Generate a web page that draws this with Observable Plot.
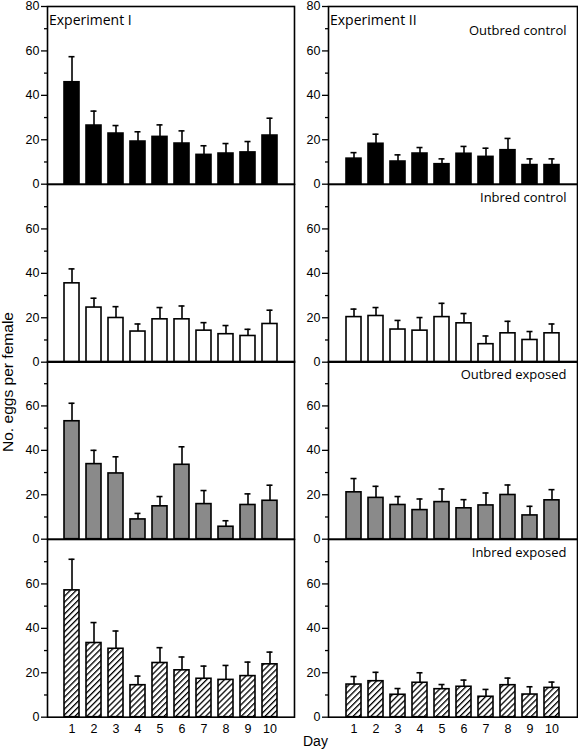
<!DOCTYPE html>
<html><head><meta charset="utf-8">
<script src="https://cdn.jsdelivr.net/npm/d3@7"></script>
<script src="https://cdn.jsdelivr.net/npm/@observablehq/plot@0.6"></script>
<style>
body{margin:0;background:#fff;}
#fig{position:relative;width:578px;height:750px;overflow:hidden;background:#fff;}
#fig svg{position:absolute;}
</style></head><body><div id="fig"></div>
<script>
// ---- data ----
const days = [1,2,3,4,5,6,7,8,9,10];
const yTicksMajor = [0,20,40,60,80];
const yTicksMinor = [10,30,50,70];
const experiments = ["Experiment I","Experiment II"];
const treatments = ["Outbred control","Inbred control","Outbred exposed","Inbred exposed"];
const xTitle = "Day";
const yTitle = "No. eggs per female";

// Experiment I: bar means and error-bar tops
const exp1OutbredControl    = [45.9,26.4,22.8,19.2,21.3,18.3,13.2,13.8,14.3,21.9];
const exp1OutbredControlTop = [57.4,32.9,26.4,23.6,26.7,24.0,17.3,18.3,19.2,29.7];
const exp1InbredControl     = [35.5,24.6,19.9,13.8,19.3,19.3,14.2,12.6,11.8,17.2];
const exp1InbredControlTop  = [42.0,28.8,25.0,17.2,24.6,25.3,17.8,16.5,14.8,23.4];
const exp1OutbredExposed    = [53.1,33.8,29.6,8.9,14.8,33.5,15.8,5.6,15.4,17.3];
const exp1OutbredExposedTop = [61.2,40.0,37.1,11.6,19.2,41.6,21.9,8.3,20.4,24.3];
const exp1InbredExposed     = [57.1,33.4,30.8,14.4,24.4,21.1,17.3,16.8,18.5,23.8];
const exp1InbredExposedTop  = [71.1,42.6,38.8,18.5,31.3,27.1,23.0,23.3,24.8,29.3];

// Experiment II
const exp2OutbredControl    = [11.5,18.2,10.2,13.8,9.0,13.7,12.3,15.3,8.6,8.6];
const exp2OutbredControlTop = [14.2,22.5,13.2,16.5,11.4,17.0,16.2,20.6,11.4,11.4];
const exp2InbredControl     = [20.3,20.8,14.7,14.2,20.3,17.5,8.1,13.0,10.0,13.0];
const exp2InbredControlTop  = [23.9,24.6,18.8,20.1,26.5,21.9,11.8,18.4,13.8,17.2];
const exp2OutbredExposed    = [21.1,18.6,15.4,13.1,16.7,13.9,15.2,19.9,10.7,17.5];
const exp2OutbredExposedTop = [27.3,23.8,19.2,18.1,22.6,17.8,20.8,24.4,14.8,22.3];
const exp2InbredExposed     = [14.7,16.2,10.1,15.5,12.6,13.7,9.2,14.4,10.2,13.2];
const exp2InbredExposedTop  = [18.3,20.2,12.9,20.0,14.7,16.7,12.5,17.6,13.7,15.8];

const series = [
  [[exp1OutbredControl,exp1OutbredControlTop],[exp1InbredControl,exp1InbredControlTop],[exp1OutbredExposed,exp1OutbredExposedTop],[exp1InbredExposed,exp1InbredExposedTop]],
  [[exp2OutbredControl,exp2OutbredControlTop],[exp2InbredControl,exp2InbredControlTop],[exp2OutbredExposed,exp2OutbredExposedTop],[exp2InbredExposed,exp2InbredExposedTop]]
];
const fills = ["black","white","#8a8a8a","hatch"];

// ---- layout ----
const fig = document.getElementById("fig");
const panelTop0 = 6, panelH = 177.7;
const tickFont = "'Liberation Sans', Arial, sans-serif";
const labelFont = "'Open Sans', 'DejaVu Sans', sans-serif";

function panel(col,row){
  const [means,tops] = series[col][row];
  const data = days.map((d,i)=>({day:d, mean:means[i], top:tops[i]}));
  const isBottom = row===3;
  const MT = 10, MB = isBottom ? 30 : 10;
  const W = col===0 ? 300 : 288, ML = col===0 ? 47 : 38, MR = col===0 ? 6 : 1;
  const hatchId = "hatch"+col;
  const fill = fills[row]==="hatch" ? `url(#${hatchId})` : fills[row];
  const marks = [
    Plot.ruleX(data,{x:"day", y1:"mean", y2:"top", stroke:"black", strokeWidth:1.6}),
    Plot.tickY(data,{x:"day", y:"top", stroke:"black", strokeWidth:1.6, insetLeft:4.5, insetRight:4.5}),
    Plot.barY(data,{x:"day", y:"mean", fill, stroke:"black", strokeWidth:1.6}),
    Plot.frame({stroke:"black", strokeWidth:1.6}),
    Plot.axisY({ticks: row===0 ? yTicksMajor : yTicksMajor.slice(0,4), tickSize:6, tickPadding:2, label:null, fontSize:12.5, fontFamily:tickFont, strokeWidth:1.3}),
    Plot.axisY({ticks: yTicksMinor, tickSize:3, tickFormat:()=>"", label:null, strokeWidth:1.3})
  ];
  if (isBottom) marks.push(Plot.axisX({tickSize:0, tickPadding:7, label:null, fontSize:12.5, fontFamily:tickFont}));
  if (row===0) {
    marks.push(Plot.text([experiments[col]], {frameAnchor:"top-left", textAnchor:"start", lineAnchor:"bottom", dx:1.5, dy:19, fontSize:14, fontFamily:labelFont, fill:"black"}));
  }
  if (col===1) {
    marks.push(Plot.text([treatments[row]], {frameAnchor:"top-right", textAnchor:"end", lineAnchor:"bottom", dx:-11, dy: row===0 ? 29 : 18, fontSize:13, fontFamily:labelFont, fill:"black"}));
  }
  const svg = Plot.plot({
    width: W, height: MT + panelH + MB,
    marginLeft: ML, marginRight: MR, marginTop: MT, marginBottom: MB,
    style: {background:"transparent", overflow:"visible", color:"black", fontFamily:tickFont, fontSize:"12px"},
    x: {type:"band", domain: days, paddingInner:0.33, paddingOuter:0.67, axis:null},
    y: {domain:[0,80], axis:null},
    marks
  });
  if (fills[row]==="hatch") {
    const defs = d3.select(svg).insert("defs", ":first-child");
    const s = 4.2;
    const p = defs.append("pattern").attr("id", hatchId).attr("patternUnits","userSpaceOnUse")
      .attr("width",s).attr("height",s).attr("patternTransform","rotate(45)");
    p.append("rect").attr("width",s).attr("height",s).attr("fill","white");
    p.append("line").attr("x1",0).attr("y1",0).attr("x2",0).attr("y2",s).attr("stroke","black").attr("stroke-width",2.6);
  }
  svg.style.left = (col===0 ? 0 : 290) + "px";
  svg.style.top = (panelTop0 + row*panelH - MT) + "px";
  fig.appendChild(svg);
}
for (let col=0; col<2; col++) for (let row=0; row<4; row++) panel(col,row);

// axis titles
const overlay = d3.create("svg").attr("width",578).attr("height",750)
  .style("left","0px").style("top","0px").style("pointer-events","none");
overlay.append("text").attr("transform","translate(13,382) rotate(-90)")
  .attr("text-anchor","middle").attr("textLength",140).attr("lengthAdjust","spacingAndGlyphs")
  .style("font-family",tickFont).style("font-size","15.5px").attr("fill","black").text(yTitle);
overlay.append("text").attr("x",303).attr("y",746)
  .style("font-family",tickFont).style("font-size","14px").attr("fill","black").text(xTitle);
fig.appendChild(overlay.node());
</script>
</body></html>
